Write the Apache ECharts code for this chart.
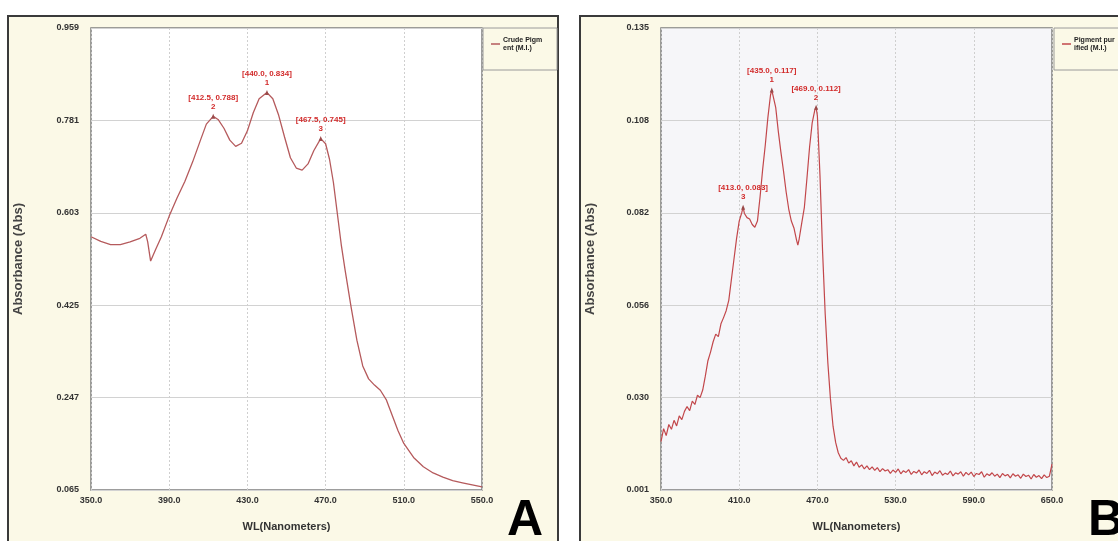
<!DOCTYPE html>
<html>
<head>
<meta charset="utf-8">
<title>Absorbance spectra A / B</title>
<script src="https://cdn.jsdelivr.net/npm/echarts@6.0.0/dist/echarts.min.js"></script>
<style>
  html, body { margin: 0; padding: 0; background: #ffffff; }
  #chart { width: 1118px; height: 541px; }
</style>
</head>
<body>
<div id="chart"></div>
<script>
// panel A - crude pigment
var wlA = [350, 355, 360, 365, 370, 375, 378, 379, 380.5, 383, 386, 390, 394, 398, 402, 406, 409, 412.5,
  415, 418, 421, 424, 427, 430, 433, 436, 440, 443, 446, 449, 452, 455, 458, 461, 464, 467.5, 470, 472,
  474, 476, 478, 480, 483, 486, 489, 492, 495, 498, 501, 504, 507, 510, 515, 520, 525, 530, 535, 540, 545, 550];
var absA = [0.555, 0.546, 0.540, 0.540, 0.545, 0.552, 0.560, 0.545, 0.508, 0.530, 0.555, 0.595, 0.630, 0.662,
  0.700, 0.742, 0.773, 0.788, 0.782, 0.765, 0.742, 0.730, 0.736, 0.760, 0.795, 0.822, 0.834, 0.822, 0.790,
  0.748, 0.708, 0.688, 0.684, 0.696, 0.722, 0.745, 0.735, 0.705, 0.660, 0.600, 0.540, 0.490, 0.420, 0.355,
  0.305, 0.280, 0.268, 0.258, 0.240, 0.210, 0.180, 0.155, 0.128, 0.110, 0.098, 0.090, 0.083, 0.079, 0.075, 0.071];
var peaksA = [[440.0, 0.834], [412.5, 0.788], [467.5, 0.745]];
var yTicksA = ['0.065', '0.247', '0.425', '0.603', '0.781', '0.959'];

// panel B - purified pigment
var wlB = [350, 352, 354, 356, 358, 360, 362, 364, 366, 368, 370, 372, 374, 376, 378, 380, 382, 384, 386, 388,
  390, 392, 394, 396, 398, 400, 402, 404, 406, 408, 410, 412, 413, 414, 416, 418, 420, 422, 424, 426, 428,
  430, 432, 434, 435, 436, 438, 440, 442, 444, 446, 448, 450, 452, 454, 455, 456, 458, 460, 462, 464, 466,
  468, 469, 470, 472, 474, 476, 478, 480, 482, 484, 486, 488, 490, 492, 494, 496, 498, 500, 502, 504, 506,
  508, 510, 512, 514, 516, 518, 520, 522, 524, 526, 528, 530, 532, 534, 536, 538, 540, 542, 544, 546, 548,
  550, 552, 554, 556, 558, 560, 562, 564, 566, 568, 570, 572, 574, 576, 578, 580, 582, 584, 586, 588, 590,
  592, 594, 596, 598, 600, 602, 604, 606, 608, 610, 612, 614, 616, 618, 620, 622, 624, 626, 628, 630, 632,
  634, 636, 638, 640, 642, 644, 646, 648, 650];
var absB = [0.0150, 0.0188, 0.0168, 0.0200, 0.0186, 0.0212, 0.0196, 0.0225, 0.0214, 0.0238, 0.0252, 0.0240,
  0.0268, 0.0258, 0.0285, 0.0278, 0.0300, 0.0340, 0.0385, 0.0410, 0.0440, 0.0462, 0.0455, 0.0492, 0.0510,
  0.0530, 0.0560, 0.0620, 0.0680, 0.0740, 0.0790, 0.0815, 0.0830, 0.0812, 0.0800, 0.0796, 0.0780, 0.0772,
  0.0790, 0.0860, 0.0940, 0.1010, 0.1090, 0.1155, 0.1170, 0.1165, 0.1120, 0.1050, 0.0990, 0.0935, 0.0875,
  0.0825, 0.0790, 0.0770, 0.0735, 0.0720, 0.0738, 0.0785, 0.0830, 0.0915, 0.1005, 0.1075, 0.1112, 0.1120,
  0.1095, 0.0920, 0.0700, 0.0520, 0.0380, 0.0275, 0.0195, 0.0148, 0.0118, 0.0102, 0.0096, 0.0104, 0.0088,
  0.0095, 0.0080, 0.0091, 0.0076, 0.0083, 0.0071, 0.0080, 0.0069, 0.0077, 0.0067, 0.0075, 0.0063, 0.0072,
  0.0065, 0.0069, 0.0058, 0.0068, 0.0061, 0.0071, 0.0057, 0.0066, 0.0061, 0.0069, 0.0055, 0.0064, 0.0059,
  0.0068, 0.0054, 0.0063, 0.0058, 0.0067, 0.0052, 0.0062, 0.0057, 0.0066, 0.0053, 0.0059, 0.0055, 0.0065,
  0.0051, 0.0060, 0.0056, 0.0063, 0.0050, 0.0061, 0.0054, 0.0062, 0.0049, 0.0058, 0.0055, 0.0063, 0.0047,
  0.0057, 0.0052, 0.0060, 0.0050, 0.0056, 0.0046, 0.0058, 0.0051, 0.0055, 0.0045, 0.0057, 0.0050, 0.0054,
  0.0044, 0.0056, 0.0049, 0.0053, 0.0042, 0.0055, 0.0047, 0.0052, 0.0043, 0.0054, 0.0046, 0.0050, 0.0085];
var peaksB = [[435.0, 0.117], [469.0, 0.112], [413.0, 0.083]];
var yTicksB = ['0.001', '0.030', '0.056', '0.082', '0.108', '0.135'];

var chart = echarts.init(document.getElementById('chart'));

var labelFont = 'Liberation Sans, Arial, sans-serif';

function pairs(xs, ys) {
  return xs.map(function (x, i) { return [x, ys[i]]; });
}

function peakMarks(peaks) {
  return peaks.map(function (p, i) {
    return { name: String(i + 1), coord: p };
  });
}

function xAxisCfg(gridIndex, min, max, interval) {
  return {
    type: 'value', gridIndex: gridIndex, min: min, max: max, interval: interval,
    name: 'WL(Nanometers)', nameLocation: 'middle', nameGap: 31,
    nameTextStyle: { fontFamily: labelFont, fontWeight: 'bold', fontSize: 11, color: '#333' },
    axisLine: { show: false }, axisTick: { show: false },
    axisLabel: { margin: 6, fontFamily: labelFont, fontWeight: 'bold', fontSize: 9, color: '#333',
      formatter: function (v) { return v.toFixed(1); } },
    splitLine: { show: true, lineStyle: { color: '#cfcfcf', type: [2, 2], width: 1 } }
  };
}

function yAxisCfg(gridIndex, min, max, ticks, gap) {
  return {
    type: 'value', gridIndex: gridIndex, min: min, max: max, interval: (max - min) / 5,
    name: 'Absorbance (Abs)', nameLocation: 'middle', nameGap: gap,
    nameTextStyle: { fontFamily: labelFont, fontWeight: 'bold', fontSize: 13, color: '#444' },
    axisLine: { show: false }, axisTick: { show: false },
    axisLabel: { margin: 12, fontFamily: labelFont, fontWeight: 'bold', fontSize: 9, color: '#333',
      formatter: function (v, idx) { return ticks[idx] !== undefined ? ticks[idx] : ''; } },
    splitLine: { show: true, lineStyle: { color: '#d2d2d2', width: 1 } }
  };
}

function lineSeries(name, idx, data, peaks, color, width) {
  return {
    name: name, type: 'line', xAxisIndex: idx, yAxisIndex: idx,
    data: data, showSymbol: false, smooth: false,
    lineStyle: { color: color, width: width }, itemStyle: { color: color },
    animation: false,
    markPoint: {
      symbol: 'triangle', symbolSize: [4, 5],
      itemStyle: { color: '#9a4a4a' },
      label: {
        show: true, position: 'top', distance: 3,
        fontFamily: labelFont, fontSize: 8, fontWeight: 'bold', lineHeight: 9, color: '#d22b2b', align: 'center',
        formatter: function (p) {
          return '[' + p.data.coord[0].toFixed(1) + ', ' + p.data.coord[1].toFixed(3) + ']\n' + p.name;
        }
      },
      data: peakMarks(peaks)
    }
  };
}

chart.setOption({
  backgroundColor: '#ffffff',
  animation: false,
  graphic: [
    { type: 'rect', z: -10, shape: { x: 8, y: 16, width: 550, height: 540 },
      style: { fill: '#fbf9e7', stroke: '#3a3a3a', lineWidth: 2 } },
    { type: 'rect', z: -10, shape: { x: 580, y: 16, width: 560, height: 540 },
      style: { fill: '#fbf9e7', stroke: '#3a3a3a', lineWidth: 2 } },
    { type: 'rect', z: 1, shape: { x: 483, y: 28, width: 74, height: 42 },
      style: { fill: '#fbf9e7', stroke: '#9a9a9a', lineWidth: 1 } },
    { type: 'rect', z: 1, shape: { x: 1054, y: 28, width: 80, height: 42 },
      style: { fill: '#fbf9e7', stroke: '#9a9a9a', lineWidth: 1 } },
    { type: 'text', z: 10, left: 507, top: 496,
      style: { text: 'A', font: 'bold 50px Liberation Sans, Arial, sans-serif', fill: '#000' } },
    { type: 'text', z: 10, left: 1088, top: 496,
      style: { text: 'B', font: 'bold 50px Liberation Sans, Arial, sans-serif', fill: '#000' } }
  ],
  legend: [
    { show: true, left: 486, top: 31, orient: 'vertical', icon: 'rect', itemWidth: 9, itemHeight: 1.5, itemGap: 2,
      data: ['Crude Pigment (M.I.)'],
      formatter: function () { return 'Crude Pigm\nent (M.I.)'; },
      textStyle: { fontFamily: labelFont, fontSize: 7, fontWeight: 'bold', color: '#222', lineHeight: 8, padding: [0, 0, 0, -2] } },
    { show: true, left: 1057, top: 31, orient: 'vertical', icon: 'rect', itemWidth: 9, itemHeight: 1.5, itemGap: 2,
      data: ['Pigment purified (M.I.)'],
      formatter: function () { return 'Pigment pur\nified (M.I.)'; },
      textStyle: { fontFamily: labelFont, fontSize: 7, fontWeight: 'bold', color: '#222', lineHeight: 8, padding: [0, 0, 0, -2] } }
  ],
  grid: [
    { left: 91, top: 28, width: 391, height: 462, show: true, backgroundColor: '#ffffff',
      borderColor: '#7d7d7d', borderWidth: 1.5, containLabel: false },
    { left: 661, top: 28, width: 391, height: 462, show: true, backgroundColor: '#f6f6f9',
      borderColor: '#7d7d7d', borderWidth: 1.5, containLabel: false }
  ],
  xAxis: [
    xAxisCfg(0, 350, 550, 40),
    xAxisCfg(1, 350, 650, 60)
  ],
  yAxis: [
    yAxisCfg(0, 0.065, 0.959, yTicksA, 66),
    yAxisCfg(1, 0.001, 0.135, yTicksB, 64)
  ],
  series: [
    lineSeries('Crude Pigment (M.I.)', 0, pairs(wlA, absA), peaksA, '#b55a5c', 1.3),
    lineSeries('Pigment purified (M.I.)', 1, pairs(wlB, absB), peaksB, '#c2474b', 1.2)
  ]
});
</script>
</body>
</html>
